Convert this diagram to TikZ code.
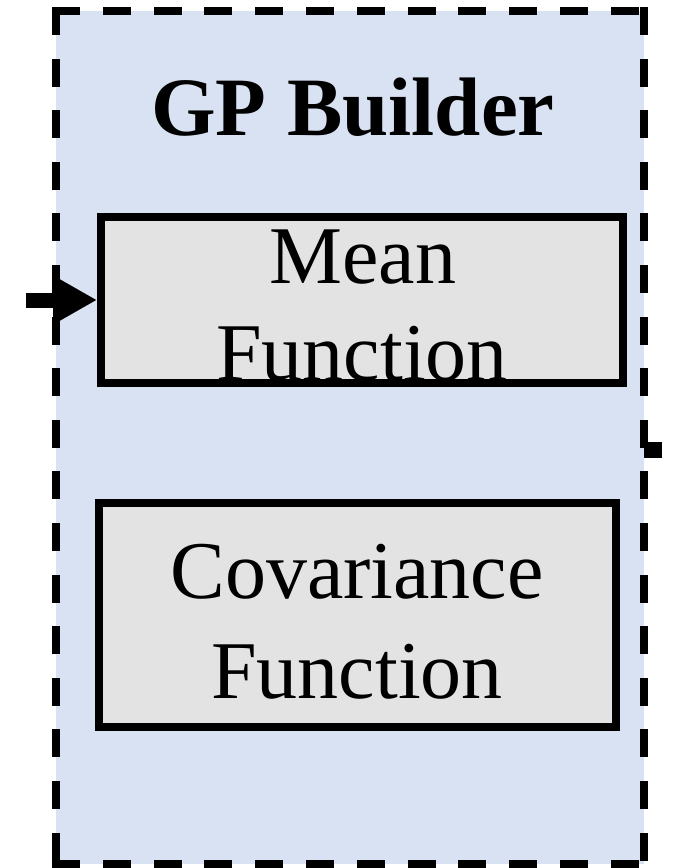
\documentclass[tikz,border=0pt]{standalone}
\usepackage{fontspec}
\setmainfont{Liberation Serif}
\usetikzlibrary{arrows.meta}
\definecolor{builderblue}{HTML}{D9E2F3}
\definecolor{boxgray}{HTML}{E3E3E3}
\begin{document}
\begin{tikzpicture}[x=1pt,y=-1pt,
  funcbox/.style={draw, line width=8pt, fill=boxgray, inner sep=0pt},
  linetext/.style={font=\fontsize{82}{97}\selectfont, inner sep=0pt, anchor=base},
  titletext/.style={font=\fontsize{83}{99}\selectfont\bfseries, inner sep=0pt, anchor=base},
  hborder/.style={line width=8pt, line cap=rect, dash pattern=on 20pt off 30.8pt},
  vborder/.style={line width=8pt, line cap=rect, dash pattern=on 20pt off 31.6pt},
  flow/.style={line width=15pt}]
\useasboundingbox (0,0) rectangle (674,868);

% container filled area
\node[fill=builderblue, inner sep=0pt, minimum width=588pt, minimum height=853pt,
      anchor=north west] (builder) at (56,11) {};

% dashed container border, one side at a time so every corner gets a dash
\draw[hborder] (builder.north west) -- (builder.north east);
\draw[hborder] (builder.south west) -- (builder.south east);
\draw[vborder] (builder.north west) -- (builder.south west);
\draw[vborder] (builder.north east) -- (builder.south east);

% inner function boxes
\node[funcbox, minimum width=522pt, minimum height=166pt] (mean) at (362,300) {};
\node[funcbox, minimum width=517pt, minimum height=224pt] (cov) at (357.5,615) {};

% labels
\node[titletext] (title) at (353,135) {GP Builder};
\node[linetext] (meanA) at (363,283) {Mean};
\node[linetext] (meanB) at (362,380) {Function};
\node[linetext] (covA) at (357,598) {Covariance};
\node[linetext] (covB) at (357,698) {Function};

% incoming arrow and outgoing stub
\coordinate (feed) at (26,300);
\draw[flow, -{Triangle[length=44pt,width=46pt]}] (feed) -- (mean.west);
\coordinate (outlet) at (662,450);
\draw[line width=16pt] (builder.east |- outlet) -- (outlet);
\end{tikzpicture}
\end{document}
